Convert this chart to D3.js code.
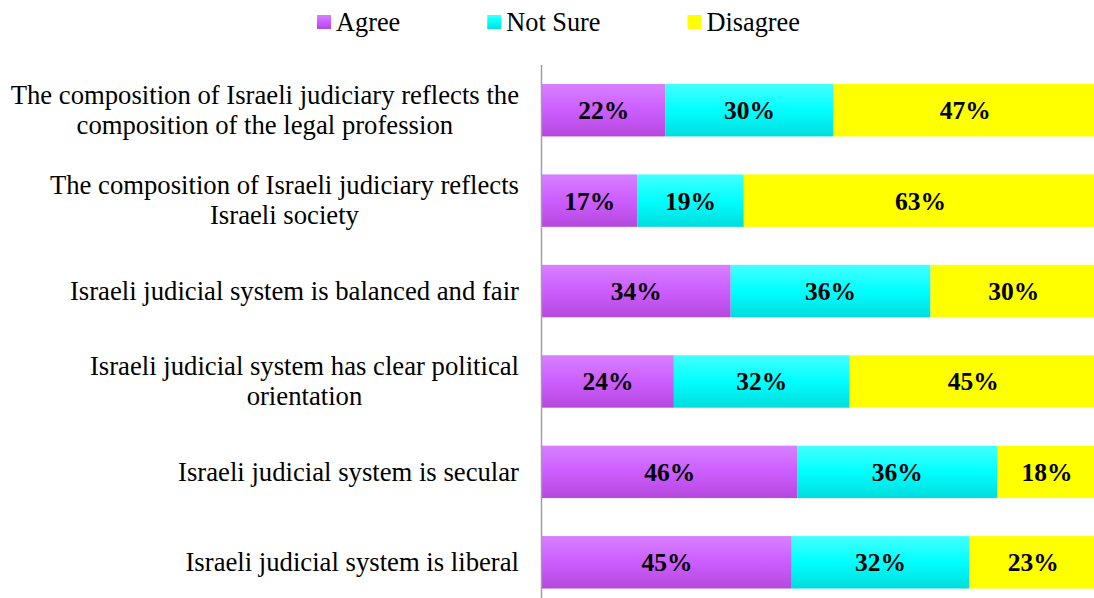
<!DOCTYPE html>
<html>
<head>
<meta charset="utf-8">
<script src="https://cdn.jsdelivr.net/npm/d3@7"></script>
<style>
  html, body { margin: 0; padding: 0; background: #fff; }
  svg { display: block; }
</style>
</head>
<body>
<svg id="chart" width="1094" height="598"></svg>
<script>
// Survey statements (top to bottom) and response shares in percent
const categories = [
  "The composition of Israeli judiciary reflects the composition of the legal profession",
  "The composition of Israeli judiciary reflects Israeli society",
  "Israeli judicial system is balanced and fair",
  "Israeli judicial system has clear political orientation",
  "Israeli judicial system is secular",
  "Israeli judicial system is liberal"
];
// Wrapped lines for the category labels
const labelLines = [
  ["The composition of Israeli judiciary reflects the", "composition of the legal profession"],
  ["The composition of Israeli judiciary reflects", "Israeli society"],
  ["Israeli judicial system is balanced and fair"],
  ["Israeli judicial system has clear political", "orientation"],
  ["Israeli judicial system is secular"],
  ["Israeli judicial system is liberal"]
];
const seriesNames = ["Agree", "Not Sure", "Disagree"];
const agree    = [22, 17, 34, 24, 46, 45];
const notSure  = [30, 19, 36, 32, 36, 32];
const disagree = [47, 63, 30, 45, 18, 23];

const W = 1094, H = 598;
const svg = d3.select("#chart");
const serif = "'Liberation Serif', 'Times New Roman', Times, serif";

// Gradients for the bar fills
const defs = svg.append("defs");
const gradSpecs = [
  { id: "gAgree", stops: ["#d880ff", "#cc5dff", "#b548dc"] },
  { id: "gNotSure", stops: ["#45ffff", "#00ffff", "#00dcdc"] },
  { id: "gDisagree", stops: ["#ffff00", "#ffff00", "#ffff00"] }
];
gradSpecs.forEach(g => {
  const lg = defs.append("linearGradient").attr("id", g.id)
    .attr("x1", 0).attr("y1", 0).attr("x2", 0).attr("y2", 1);
  lg.append("stop").attr("offset", "0%").attr("stop-color", g.stops[0]);
  lg.append("stop").attr("offset", "50%").attr("stop-color", g.stops[1]);
  lg.append("stop").attr("offset", "100%").attr("stop-color", g.stops[2]);
});
const fills = ["url(#gAgree)", "url(#gNotSure)", "url(#gDisagree)"];

// 100% stacked rows
const rows = categories.map((c, i) => ({
  cat: c, Agree: agree[i], "Not Sure": notSure[i], Disagree: disagree[i]
}));
const stack = d3.stack().keys(seriesNames).offset(d3.stackOffsetExpand);
const series = stack(rows);

const x = d3.scaleLinear().domain([0, 1]).range([542, 1097]);
const y = d3.scaleBand().domain(categories).range([65, 607.5])
  .paddingInner(0.42).paddingOuter(0.21);

// Bars
const g = svg.append("g");
series.forEach((s, si) => {
  g.selectAll(null).data(s).enter().append("rect")
    .attr("x", d => x(d[0]))
    .attr("y", d => y(d.data.cat))
    .attr("width", d => x(d[1]) - x(d[0]))
    .attr("height", y.bandwidth())
    .attr("fill", fills[si]);
  // Value labels
  g.selectAll(null).data(s).enter().append("text")
    .attr("x", d => (x(d[0]) + x(d[1])) / 2)
    .attr("y", d => y(d.data.cat) + y.bandwidth() / 2)
    .attr("dy", "0.35em")
    .attr("text-anchor", "middle")
    .attr("font-family", serif)
    .attr("font-weight", "bold")
    .attr("font-size", "25.5px")
    .attr("fill", "#000")
    .text(d => d.data[s.key] + "%");
});

// Category axis line
svg.append("line")
  .attr("x1", 541.5).attr("x2", 541.5)
  .attr("y1", y.range()[0]).attr("y2", y.range()[1])
  .attr("stroke", "#a0a0a0").attr("stroke-width", 1.5);

// Category labels: right-aligned block, lines centred within the block
const labelRight = 519;
const lineH = 30;
const lg = svg.append("g");
labelLines.forEach((lines, i) => {
  const cy = y(categories[i]) + y.bandwidth() / 2;
  const grp = lg.append("g");
  const texts = lines.map((ln, k) => grp.append("text")
    .attr("font-family", serif)
    .attr("font-size", "26.7px")
    .attr("fill", "#000")
    .attr("text-anchor", "middle")
    .attr("y", cy + (k - (lines.length - 1) / 2) * lineH)
    .attr("dy", "0.33em")
    .text(ln));
  const maxW = d3.max(texts, t => t.node().getComputedTextLength());
  texts.forEach(t => t.attr("x", labelRight - maxW / 2));
});

// Legend
const legend = svg.append("g");
let lx = 317;
seriesNames.forEach((name, i) => {
  legend.append("rect")
    .attr("x", lx).attr("y", 15).attr("width", 14).attr("height", 14)
    .attr("fill", fills[i]);
  const t = legend.append("text")
    .attr("x", lx + 19).attr("y", 22).attr("dy", "0.33em")
    .attr("font-family", serif).attr("font-size", "26.3px").attr("fill", "#000")
    .text(name);
  lx += 19 + t.node().getComputedTextLength() + 87;
});
</script>
</body>
</html>
